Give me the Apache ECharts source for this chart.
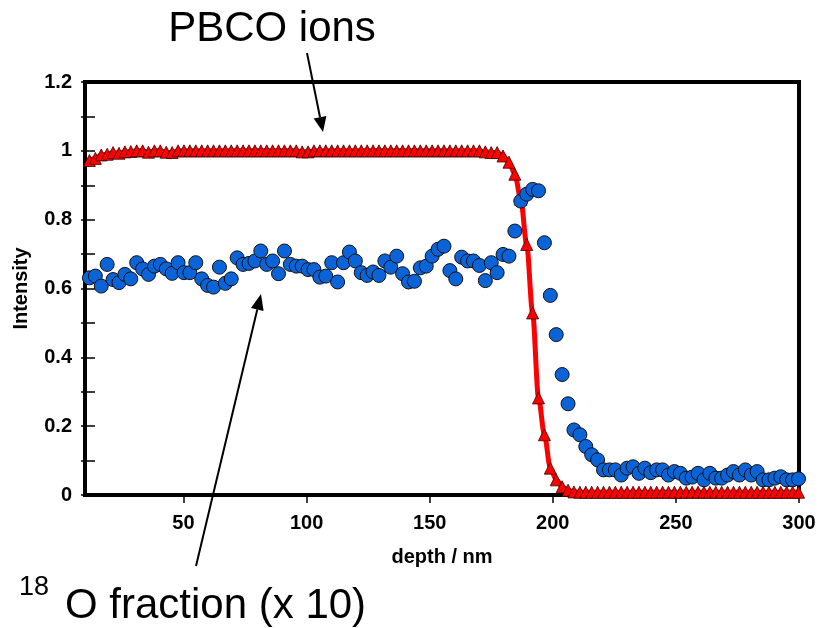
<!DOCTYPE html>
<html>
<head>
<meta charset="utf-8">
<script src="https://cdn.jsdelivr.net/npm/echarts@6/dist/echarts.min.js"></script>
<style>
  html, body { margin: 0; padding: 0; background: #fff; }
  #chart { width: 823px; height: 628px; }
</style>
</head>
<body>
<div id="chart"></div>
<script>
// Depth profile: PBCO ion intensity and 18O fraction (scaled x10) against depth.
const depth = [
  11.8, 14.2, 16.6, 19.0, 21.4, 23.8, 26.2, 28.6, 31.0, 33.4,
  35.8, 38.2, 40.6, 43.0, 45.4, 47.8, 50.2, 52.6, 55.0, 57.4,
  59.8, 62.2, 64.6, 67.0, 69.4, 71.8, 74.2, 76.6, 79.0, 81.4,
  83.8, 86.2, 88.6, 91.0, 93.4, 95.8, 98.2, 100.6, 103.0, 105.4,
  107.8, 110.2, 112.6, 115.0, 117.4, 119.8, 122.2, 124.6, 127.0, 129.4,
  131.8, 134.2, 136.6, 139.0, 141.4, 143.8, 146.2, 148.6, 151.0, 153.4,
  155.8, 158.2, 160.6, 163.0, 165.4, 167.8, 170.2, 172.6, 175.0, 177.4,
  179.8, 182.2, 184.6, 187.0, 189.4, 191.8, 194.2, 196.6, 199.0, 201.4,
  203.8, 206.2, 208.6, 211.0, 213.4, 215.8, 218.2, 220.6, 223.0, 225.4,
  227.8, 230.2, 232.6, 235.0, 237.4, 239.8, 242.2, 244.6, 247.0, 249.4,
  251.8, 254.2, 256.6, 259.0, 261.4, 263.8, 266.2, 268.6, 271.0, 273.4,
  275.8, 278.2, 280.6, 283.0, 285.4, 287.8, 290.2, 292.6, 295.0, 297.4,
  299.8
];

const pbcoIons = [
  0.972, 0.978, 0.988, 0.990, 0.995, 0.993, 0.997, 0.998, 1.0, 1.0,
  0.996, 1.0, 1.0, 0.996, 0.995, 1.0, 1.0, 1.0, 1.0, 1.0,
  1.0, 1.0, 1.0, 1.0, 1.0, 1.0, 1.0, 1.0, 1.0, 1.0,
  1.0, 1.0, 1.0, 1.0, 1.0, 1.0, 0.997, 0.997, 1.0, 1.0,
  1.0, 1.0, 1.0, 1.0, 1.0, 1.0, 1.0, 1.0, 1.0, 1.0,
  1.0, 1.0, 1.0, 1.0, 1.0, 1.0, 1.0, 1.0, 1.0, 1.0,
  1.0, 1.0, 1.0, 1.0, 1.0, 1.0, 1.0, 0.997, 0.995, 0.995,
  0.985, 0.967, 0.932, 0.859, 0.728, 0.529, 0.282, 0.175, 0.078, 0.044,
  0.024, 0.014, 0.009, 0.008, 0.008, 0.008, 0.008, 0.008, 0.008, 0.008,
  0.008, 0.008, 0.008, 0.008, 0.008, 0.008, 0.008, 0.008, 0.008, 0.008,
  0.008, 0.008, 0.008, 0.008, 0.008, 0.008, 0.008, 0.008, 0.008, 0.008,
  0.008, 0.008, 0.008, 0.008, 0.008, 0.008, 0.008, 0.008, 0.008, 0.008,
  0.008
];

const oxygenFraction = [
  0.631, 0.636, 0.607, 0.670, 0.626, 0.617, 0.641, 0.628, 0.675, 0.657,
  0.641, 0.665, 0.670, 0.657, 0.644, 0.675, 0.646, 0.646, 0.675, 0.628,
  0.609, 0.604, 0.662, 0.615, 0.628, 0.689, 0.670, 0.673, 0.680, 0.709,
  0.670, 0.680, 0.643, 0.709, 0.670, 0.665, 0.665, 0.655, 0.655, 0.633,
  0.636, 0.675, 0.619, 0.675, 0.706, 0.680, 0.646, 0.638, 0.648, 0.638,
  0.680, 0.662, 0.694, 0.643, 0.619, 0.621, 0.660, 0.665, 0.694, 0.714,
  0.723, 0.652, 0.628, 0.691, 0.680, 0.680, 0.667, 0.623, 0.675, 0.646,
  0.699, 0.694, 0.767, 0.854, 0.874, 0.888, 0.884, 0.733, 0.580, 0.466,
  0.350, 0.265, 0.189, 0.175, 0.141, 0.117, 0.102, 0.073, 0.073, 0.073,
  0.058, 0.078, 0.082, 0.063, 0.078, 0.065, 0.073, 0.073, 0.058, 0.068,
  0.063, 0.049, 0.052, 0.063, 0.044, 0.063, 0.049, 0.049, 0.058, 0.068,
  0.058, 0.073, 0.058, 0.068, 0.044, 0.044, 0.049, 0.053, 0.044, 0.044,
  0.047
];

const xTickValues = [50, 100, 150, 200, 250, 300];
const yTickStep = 0.2;

const FONT = '"Liberation Sans", Arial, sans-serif';

// Straight arrow with a filled head ending at (x2, y2).
function arrow(x1, y1, x2, y2, headLen, headW) {
  const a = Math.atan2(y2 - y1, x2 - x1);
  const bx = x2 - headLen * Math.cos(a);
  const by = y2 - headLen * Math.sin(a);
  const px = -Math.sin(a) * headW / 2;
  const py = Math.cos(a) * headW / 2;
  return [
    { type: 'line', z: 100, shape: { x1: x1, y1: y1, x2: bx, y2: by },
      style: { stroke: '#000', lineWidth: 2 } },
    { type: 'polygon', z: 100, shape: { points: [[x2, y2], [bx + px, by + py], [bx - px, by - py]] },
      style: { fill: '#000' } }
  ];
}

const chart = echarts.init(document.getElementById('chart'), null, { renderer: 'canvas' });

const tickLabel = { color: '#000', fontFamily: FONT, fontWeight: 'bold', fontSize: 20 };
const axisName = { color: '#000', fontFamily: FONT, fontWeight: 'bold', fontSize: 20 };

chart.setOption({
  backgroundColor: '#fff',
  animation: false,
  grid: {
    left: 85, right: 24, top: 82, bottom: 133,
    show: true, borderColor: '#000', borderWidth: 4, backgroundColor: 'transparent'
  },
  xAxis: {
    type: 'value',
    min: 10, max: 300,
    name: 'depth / nm',
    nameLocation: 'middle',
    nameGap: 52,
    nameTextStyle: axisName,
    axisLine: { show: true, lineStyle: { color: '#000', width: 4 } },
    axisTick: { show: true, inside: false, length: 8, lineStyle: { color: '#000', width: 1.5 }, customValues: xTickValues },
    axisLabel: Object.assign({ margin: 18, customValues: xTickValues }, tickLabel),
    splitLine: { show: false }
  },
  yAxis: [
    {
      type: 'value',
      min: 0, max: 1.2, interval: yTickStep,
      name: 'Intensity',
      nameLocation: 'middle',
      nameGap: 54,
      nameTextStyle: axisName,
      axisLine: { show: true, lineStyle: { color: '#000', width: 4 } },
      axisTick: { show: true, inside: true, length: 10, lineStyle: { color: '#000', width: 1.5 } },
      minorTick: { show: true, splitNumber: 2, length: 10, lineStyle: { color: '#000', width: 1.5 } },
      axisLabel: Object.assign({ margin: 13 }, tickLabel),
      splitLine: { show: false }
    },
    {
      // outer half of the crossing ticks
      type: 'value',
      position: 'left',
      min: 0, max: 1.2, interval: yTickStep,
      axisLine: { show: false },
      axisTick: { show: true, inside: false, length: 4, lineStyle: { color: '#000', width: 1.5 } },
      minorTick: { show: true, splitNumber: 2, length: 4, lineStyle: { color: '#000', width: 1.5 } },
      axisLabel: { show: false },
      splitLine: { show: false }
    }
  ],
  series: [
    {
      name: 'PBCO ions',
      type: 'line',
      yAxisIndex: 0,
      data: depth.map((d, i) => [d, pbcoIons[i]]),
      smooth: 0.3,
      smoothMonotone: 'x',
      symbol: 'triangle',
      symbolSize: 12,
      showAllSymbol: true,
      lineStyle: { color: '#ff0000', width: 5 },
      itemStyle: { color: '#ff0000', borderColor: '#3a0000', borderWidth: 0.8 },
      z: 2
    },
    {
      name: '18O fraction (x 10)',
      type: 'scatter',
      yAxisIndex: 0,
      data: depth.map((d, i) => [d, oxygenFraction[i]]),
      symbol: 'circle',
      symbolSize: 14,
      itemStyle: { color: '#0a64d8', borderColor: '#101010', borderWidth: 1, opacity: 1 },
      z: 3
    }
  ],
  graphic: [
    { type: 'text', z: 100,
      style: { text: 'PBCO ions', x: 272, y: 29, fill: '#000', fontFamily: FONT, fontSize: 42,
               align: 'center', verticalAlign: 'middle' } },
    { type: 'text', z: 100,
      style: { text: '18', x: 19, y: 588, fill: '#000', fontFamily: FONT, fontSize: 27,
               align: 'left', verticalAlign: 'middle' } },
    { type: 'text', z: 100,
      style: { text: 'O fraction (x 10)', x: 65, y: 606, fill: '#000', fontFamily: FONT, fontSize: 42,
               align: 'left', verticalAlign: 'middle' } }
  ].concat(arrow(307, 53, 323, 132, 15, 13), arrow(196, 566, 261, 294, 16, 13))
});
</script>
</body>
</html>
